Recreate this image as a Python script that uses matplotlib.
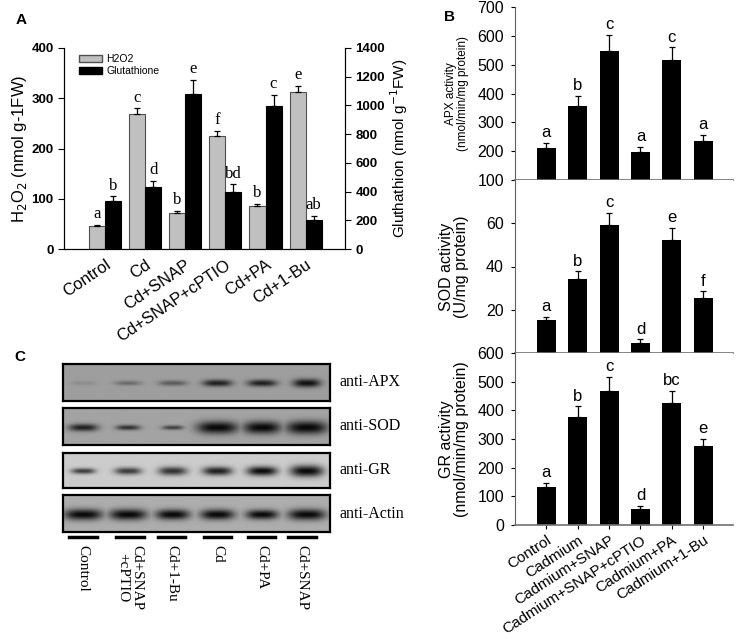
import matplotlib
matplotlib.use("Agg")
import matplotlib.pyplot as plt
import numpy as np
from matplotlib.patches import Patch

SANS = "Liberation Sans"
SERIF = "Liberation Serif"
plt.rcParams["font.family"] = SANS

# ---- panel A data
treat_a = ["Control", "Cd", "Cd+SNAP", "Cd+SNAP+cPTIO", "Cd+PA", "Cd+1-Bu"]
h2o2 = [46, 268, 72, 224, 85, 312]
h2o2_err = [2, 12, 4, 11, 5, 12]
h2o2_let = ["a", "c", "b", "f", "b", "e"]
gsh = [334, 432, 1077, 399, 996, 204]
gsh_err = [33, 44, 100, 51, 77, 24]
gsh_let = ["b", "d", "e", "bd", "c", "ab"]

# ---- panel B data
treat_b = ["Control", "Cadmium", "Cadmium+SNAP", "Cadmium+SNAP+cPTIO",
           "Cadmium+PA", "Cadmium+1-Bu"]
apx = [212, 357, 546, 198, 515, 234]
apx_err = [17, 36, 56, 18, 45, 23]
apx_let = ["a", "b", "c", "a", "c", "a"]
sod = [15.1, 34.4, 59.2, 4.7, 52.2, 25.3]
sod_err = [1.5, 3.3, 5.5, 1.6, 5.5, 3.2]
sod_let = ["a", "b", "c", "d", "e", "f"]
gr = [133, 378, 467, 56, 425, 276]
gr_err = [14, 36, 49, 11, 44, 25]
gr_let = ["a", "b", "c", "d", "bc", "e"]

# ---- panel C (blot) data: band darkness / half width / half height per lane
lanes_c = ["Control", "Cd+SNAP\n+cPTIO", "Cd+1-Bu", "Cd", "Cd+PA", "Cd+SNAP"]
blots = ["anti-APX", "anti-SOD", "anti-GR", "anti-Actin"]
blot_bg = [0.62, 0.64, 0.80, 0.68]
band_amp = [[0.12, 0.35, 0.45, 0.85, 0.85, 0.95],
            [0.85, 0.75, 0.65, 1.0, 1.0, 1.0],
            [0.75, 0.75, 0.8, 0.9, 1.0, 1.0],
            [1.0, 1.0, 1.0, 1.0, 1.0, 1.0]]
band_w = [[0.28, 0.30, 0.32, 0.33, 0.33, 0.31],
          [0.33, 0.27, 0.24, 0.46, 0.42, 0.46],
          [0.27, 0.30, 0.32, 0.33, 0.34, 0.37],
          [0.43, 0.42, 0.38, 0.38, 0.36, 0.42]]
band_h = [[0.06, 0.06, 0.07, 0.09, 0.09, 0.11],
          [0.10, 0.07, 0.06, 0.17, 0.17, 0.18],
          [0.08, 0.10, 0.12, 0.12, 0.13, 0.16],
          [0.15, 0.15, 0.14, 0.14, 0.13, 0.15]]

W, H = 737, 639
fig = plt.figure(figsize=(W / 100, H / 100), dpi=100)


def box(l, r, t, b):
    return [l / W, 1 - b / H, (r - l) / W, (b - t) / H]


# ================= Panel A
ax = fig.add_axes(box(64, 345, 48, 249))
ax2 = ax.twinx()
x = np.arange(6)
ax.bar(x - 0.2, h2o2, 0.4, color="#c0c0c0", edgecolor="#505050", lw=0.8, zorder=2)
ax.errorbar(x - 0.2, h2o2, yerr=[np.zeros(6), h2o2_err], fmt="none",
            ecolor="black", elinewidth=0.9, capsize=2.5, capthick=0.9)
ax2.bar(x + 0.2, gsh, 0.4, color="black", edgecolor="black", lw=0.8)
ax2.errorbar(x + 0.2, gsh, yerr=[np.zeros(6), gsh_err], fmt="none",
             ecolor="black", elinewidth=0.9, capsize=2.5, capthick=0.9)
for i in range(6):
    ax.annotate(h2o2_let[i], (x[i] - 0.2, h2o2[i] + h2o2_err[i]), xytext=(0, 2),
                textcoords="offset points", ha="center", va="bottom",
                family=SERIF, fontsize=12)
    ax2.annotate(gsh_let[i], (x[i] + 0.2, gsh[i] + gsh_err[i]), xytext=(0, 2),
                 textcoords="offset points", ha="center", va="bottom",
                 family=SERIF, fontsize=12)
ax.set_xlim(-1.02, 5.98)
ax.set_ylim(0, 400)
ax2.set_ylim(0, 1400)
ax.set_yticks([0, 100, 200, 300, 400])
ax2.set_yticks(range(0, 1401, 200))
for a in (ax, ax2):
    a.spines["top"].set_visible(False)
    a.tick_params(axis="y", labelsize=9.5, length=4, width=0.8)
    for lab in a.get_yticklabels():
        lab.set_fontweight("bold")
ax.set_xticks(x)
ax.set_xticklabels(treat_a, rotation=34, ha="right", rotation_mode="anchor",
                   fontsize=12)
ax.tick_params(axis="x", length=0, pad=6)
ax.set_ylabel("H$_2$O$_2$ (nmol g-1FW)", fontsize=12, labelpad=2)
ax2.set_ylabel("Gluthathion (nmol g$^{-1}$FW)", fontsize=11, labelpad=2)
handles = [Patch(facecolor="#c0c0c0", edgecolor="#505050", label="H2O2"),
           Patch(facecolor="black", edgecolor="black", label="Glutathione")]
ax.legend(handles=handles, loc="upper left", bbox_to_anchor=(0.04, 0.99),
          frameon=False, fontsize=7.5, handlelength=2.2, handleheight=0.6,
          labelspacing=0.2, handletextpad=0.4, borderaxespad=0)
fig.text(16 / W, 1 - 20 / H, "A", fontsize=11, fontweight="bold", va="center")

# ================= Panel B
specs = [(apx, apx_err, apx_let, (100, 700), range(100, 701, 100),
          "APX activity\n(nmol/min/mg protein)", 8.5, (7, 180)),
         (sod, sod_err, sod_let, (0, 80), [20, 40, 60],
          "SOD activity\n(U/mg protein)", 11.5, (180, 353)),
         (gr, gr_err, gr_let, (0, 600), range(0, 601, 100),
          "GR activity\n(nmol/min/mg protein)", 11.5, (353, 525))]
axes_b = []
for vals, errs, lets, ylim, yt, ylab, lsz, (t, b) in specs:
    a = fig.add_axes(box(515, 733, t, b))
    a.bar(x, np.array(vals) - ylim[0], 0.6, bottom=ylim[0], color="black")
    a.errorbar(x, vals, yerr=[np.zeros(6), errs], fmt="none", ecolor="black",
               elinewidth=0.9, capsize=2.5, capthick=0.9)
    for i in range(6):
        a.annotate(lets[i], (x[i], vals[i] + errs[i]), xytext=(0, 2),
                   textcoords="offset points", ha="center", va="bottom",
                   fontsize=12)
    a.set_xlim(-1.0, 5.95)
    a.set_ylim(*ylim)
    a.set_yticks(list(yt))
    a.spines["top"].set_visible(False)
    a.spines["right"].set_visible(False)
    a.spines["bottom"].set_color("#707070")
    a.spines["bottom"].set_linewidth(1.2)
    a.spines["left"].set_color("#606060")
    a.tick_params(axis="y", labelsize=11.5, length=3, width=0.8, pad=5)
    a.set_ylabel(ylab, fontsize=lsz, linespacing=1.0)
    a.yaxis.set_label_coords(-0.213, 0.5)
    a.set_xticks(x)
    axes_b.append(a)
for a in axes_b[:2]:
    a.tick_params(axis="x", length=0, labelbottom=False)
axes_b[2].set_xticklabels(treat_b, rotation=33, ha="right",
                          rotation_mode="anchor", fontsize=11)
axes_b[2].tick_params(axis="x", length=3, pad=3)
fig.text(444 / W, 1 - 17 / H, "B", fontsize=11, fontweight="bold", va="center")

# ================= Panel C
strip_rows = [(364, 401), (408, 445), (453, 488), (495, 532)]
xl = (-0.45, 5.51)
gx = np.linspace(xl[0], xl[1], 400)
gy = np.linspace(0, 1, 80)
XX, YY = np.meshgrid(gx, gy)
for k, (t, b) in enumerate(strip_rows):
    a = fig.add_axes(box(63, 330, t, b))
    img = np.full(XX.shape, blot_bg[k])
    dark = np.zeros(XX.shape)
    for i in range(6):
        prof = np.exp(-(np.abs(XX - i) / band_w[k][i]) ** 3) * \
            np.exp(-((YY - 0.53) / band_h[k][i]) ** 2)
        dark = np.maximum(dark, band_amp[k][i] * prof)
    img = img * (1 - 0.95 * dark)
    a.imshow(img, cmap="gray", vmin=0, vmax=1, aspect="auto",
             extent=(xl[0], xl[1], 1, 0), interpolation="bilinear")
    a.set_xlim(*xl)
    a.set_ylim(1, 0)
    a.set_xticks([])
    a.set_yticks([])
    for s in a.spines.values():
        s.set_linewidth(1.6)
    fig.text(340 / W, 1 - (t + b) / 2 / H, blots[k], family=SERIF,
             fontsize=11.5, va="center", ha="left")

lab_ax = fig.add_axes(box(63, 330, 532, 639))
lab_ax.set_xlim(*xl)
lab_ax.set_ylim(107, 0)
lab_ax.axis("off")
lab_x = [0, 1.05, 1.97, 3.0, 3.98, 4.88]
for i in range(6):
    lab_ax.plot([lab_x[i] - 0.31, lab_x[i] + 0.31], [5, 5], color="black", lw=2.5)
    lab_ax.text(lab_x[i], 13, lanes_c[i], rotation=270, ha="center", va="top",
                family=SERIF, fontsize=11, linespacing=1.1)
fig.text(14 / W, 1 - 357 / H, "C", fontsize=11, fontweight="bold", va="center")

fig.savefig("out.png", dpi=100)
